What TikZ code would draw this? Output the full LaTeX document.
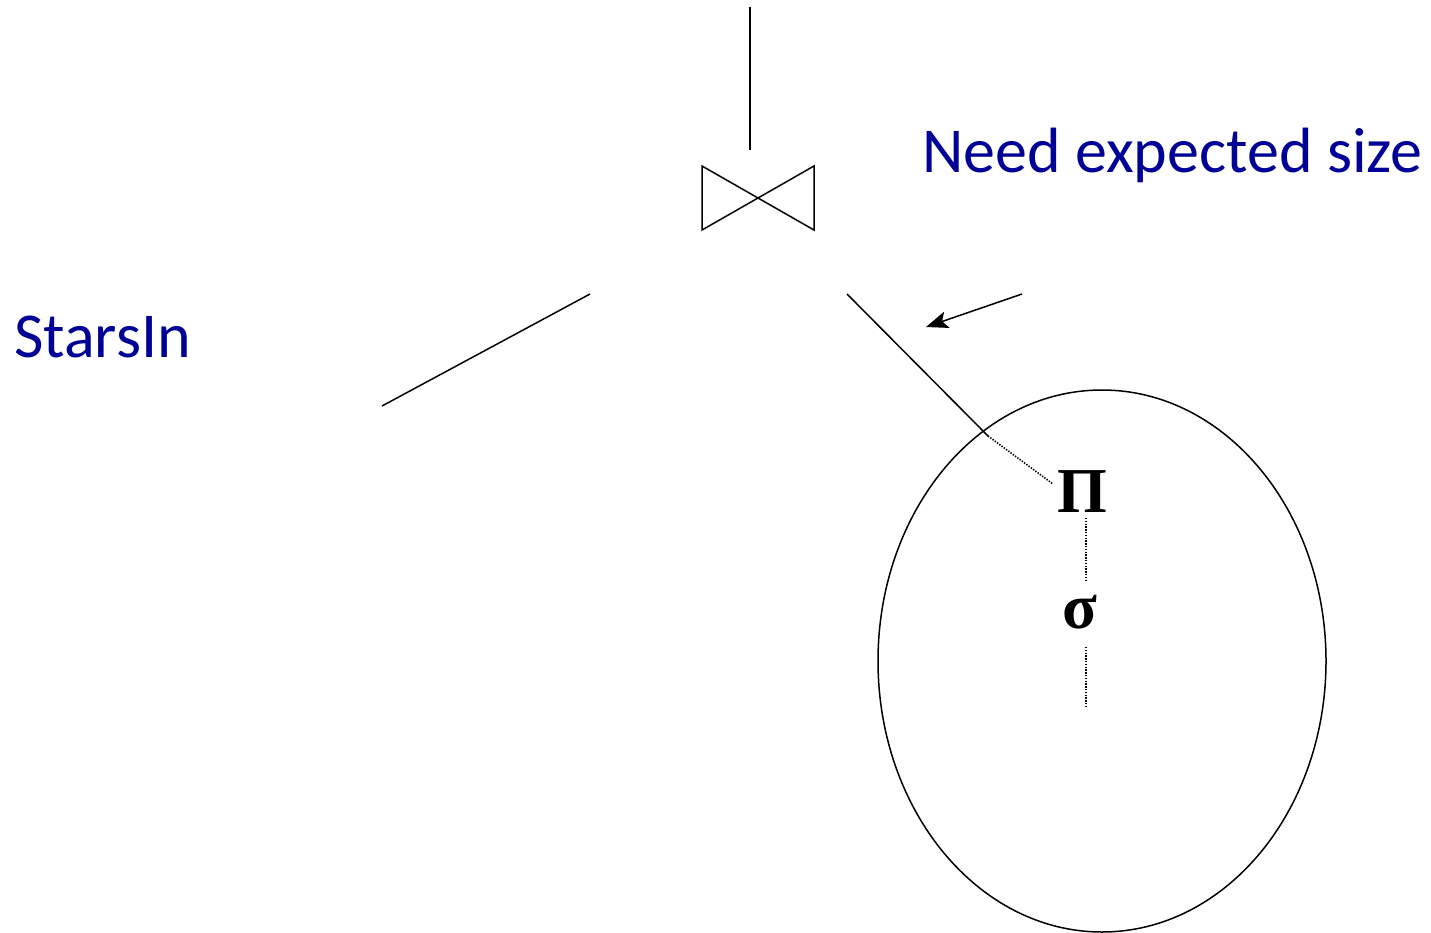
\documentclass[tikz,border=0pt]{standalone}
\usepackage{fontspec}
\setmainfont{Carlito}
\newfontfamily\greekfont{Liberation Serif}
\usetikzlibrary{arrows.meta}
\definecolor{navytext}{RGB}{0,0,150}
\begin{document}
\begin{tikzpicture}[x=1pt,y=-1pt,
  edge/.style={line width=1.5pt, line cap=butt},
  dotline/.style={line width=1.6pt, dash pattern=on 1.4pt off 1.4pt},
  label/.style={text=navytext, font=\fontsize{64}{70}\selectfont, inner sep=0pt, anchor=base west},
  greek/.style={font=\greekfont\bfseries\fontsize{64}{68}\selectfont, inner sep=0pt, anchor=base}]
\useasboundingbox (0,0) rectangle (1431,932);
% top edge
\coordinate (top) at (750,7);
\coordinate (topend) at (750,150);
\draw[edge] (top) -- (topend);
% bowtie
\draw[edge, line join=miter] (702,166) -- (814,230) -- (814,166) -- (702,230) -- cycle;
% left edge
\coordinate (lA) at (590,294);
\coordinate (lB) at (382,406);
\draw[edge] (lA) -- (lB);
% right edge
\coordinate (rA) at (847,294);
\coordinate (rB) at (988,436);
\coordinate (rC) at (1053,484);
\draw[edge] (rA) -- (rB);
\draw[dotline] (rB) -- (rC);
% ellipse
\draw[edge] (1102,661) ellipse [x radius=224, y radius=271];
% arrow
\coordinate (arS) at (1022,294);
\coordinate (arE) at (926,327);
\draw[edge, -{Stealth[length=22pt,width=17pt,inset=5pt]}] (arS) -- (arE);
% greek nodes
\node[greek] (pi) at (1082,512) {Π};
\node[greek] (sigma) at (1080,628) {σ};
\coordinate (d1a) at (1086,518);
\coordinate (d1b) at (1086,580);
\coordinate (d2a) at (1086,647);
\coordinate (d2b) at (1086,708);
\draw[dotline] (d1a) -- (d1b);
\draw[dotline] (d2a) -- (d2b);
% labels
\node[label] (need) at (922,172) {Need expected size};
\node[label] (stars) at (14,357) {StarsIn};
\end{tikzpicture}
\end{document}
